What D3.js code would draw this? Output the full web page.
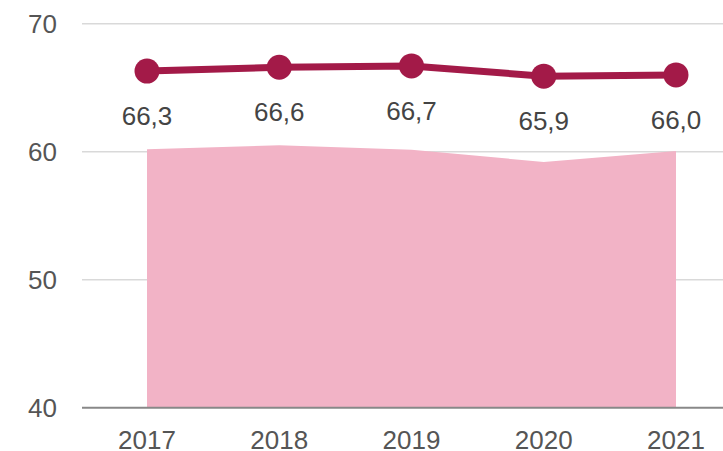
<!DOCTYPE html>
<html><head><meta charset="utf-8">
<script src="https://cdn.jsdelivr.net/npm/d3@7"></script>
<style>html,body{margin:0;padding:0;background:#fff;}svg{display:block;}</style>
</head><body>
<script>
const years = ["2017","2018","2019","2020","2021"];
const lineValues = [66.3, 66.6, 66.7, 65.9, 66.0];
const areaValues = [60.2, 60.5, 60.15, 59.2, 60.05];
const yTicks = [40, 50, 60, 70];

const W = 723, H = 451;
const svg = d3.select("body").append("svg").attr("width", W).attr("height", H);
const font = "'Liberation Sans', Arial, sans-serif";

const x = d3.scalePoint().domain(years).range([147, 676]);
const y = d3.scaleLinear().domain([40, 70]).range([407.7, 23.7]);

// gridlines
svg.append("g").selectAll("line").data(yTicks.filter(t => t !== 40)).join("line")
  .attr("x1", 82).attr("x2", W).attr("y1", d => y(d)).attr("y2", d => y(d))
  .attr("stroke", "#d9d9d9").attr("stroke-width", 1.5);

// area
const area = d3.area().x((d, i) => x(years[i])).y0(y(40)).y1(d => y(d));
svg.append("path").datum(areaValues).attr("d", area).attr("fill", "#f2b3c6");

// baseline
svg.append("line").attr("x1", 82).attr("x2", W).attr("y1", y(40)).attr("y2", y(40))
  .attr("stroke", "#888").attr("stroke-width", 2);

// y tick labels
svg.append("g").selectAll("text").data(yTicks).join("text")
  .attr("x", 57).attr("y", d => y(d)).attr("dy", "0.36em")
  .attr("text-anchor", "end").attr("font-family", font).attr("font-size", 26)
  .attr("fill", "#555").text(d => d);

// x labels
svg.append("g").selectAll("text").data(years).join("text")
  .attr("x", d => x(d)).attr("y", 449)
  .attr("text-anchor", "middle").attr("font-family", font).attr("font-size", 26)
  .attr("fill", "#555").text(d => d);

// line
const line = d3.line().x((d, i) => x(years[i])).y(d => y(d));
svg.append("path").datum(lineValues).attr("d", line)
  .attr("fill", "none").attr("stroke", "#a31a48").attr("stroke-width", 7);

svg.append("g").selectAll("circle").data(lineValues).join("circle")
  .attr("cx", (d, i) => x(years[i])).attr("cy", d => y(d)).attr("r", 12.5)
  .attr("fill", "#a31a48");

// value labels
svg.append("g").selectAll("text").data(lineValues).join("text")
  .attr("x", (d, i) => x(years[i])).attr("y", d => y(d) + 54)
  .attr("text-anchor", "middle").attr("font-family", font).attr("font-size", 26)
  .attr("fill", "#444").text(d => d.toFixed(1).replace(".", ","));
</script>
</body></html>
